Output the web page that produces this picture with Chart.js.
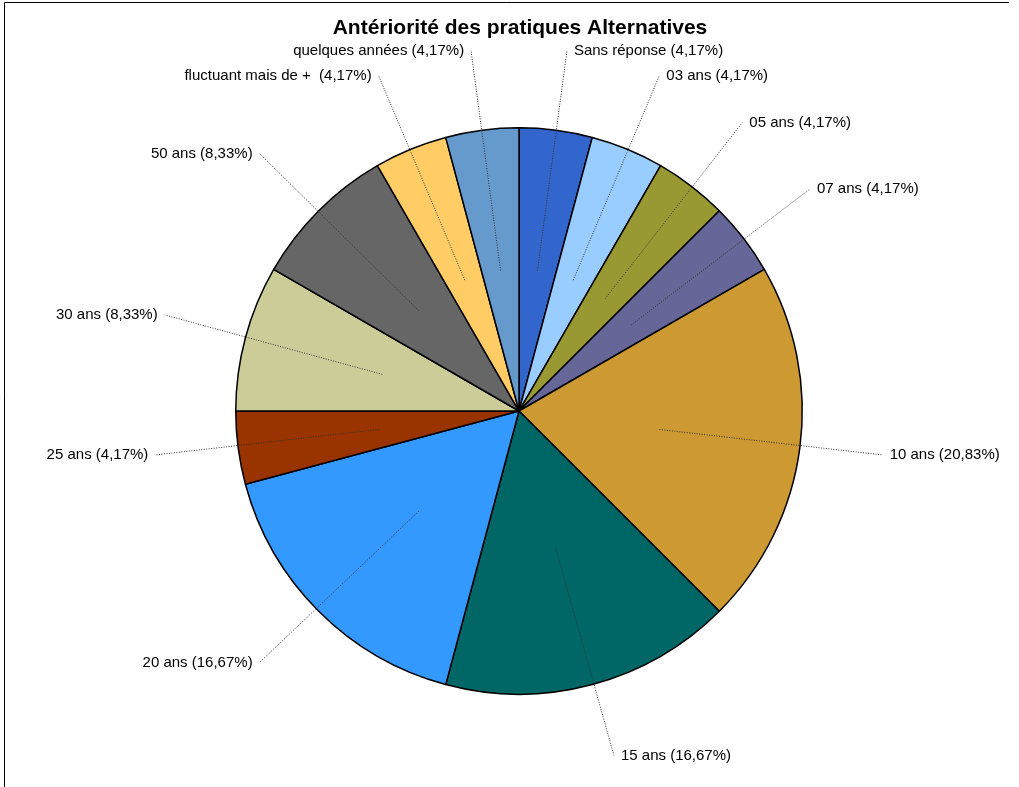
<!DOCTYPE html>
<html><head><meta charset="utf-8">
<script src="https://cdn.jsdelivr.net/npm/chart.js@4/dist/chart.umd.min.js"></script>
<style>html,body{margin:0;padding:0;background:#fff;}#wrap{width:1019px;height:787px;position:relative;}</style>
</head><body><div id="wrap"><canvas id="c" width="1019" height="787"></canvas></div>
<script>
const TITLE = "Antériorité des pratiques Alternatives";
const categories = ["Sans réponse","03 ans","05 ans","07 ans","10 ans","15 ans","20 ans","25 ans","30 ans","50 ans","fluctuant mais de + ","quelques années"];
const counts = [1,1,1,1,5,4,4,1,2,2,1,1];
const colors = ["#3366CC","#99CCFF","#999933","#666699","#CC9933","#006666","#3399FF","#993300","#CCCC99","#666666","#FFCC66","#6699CC"];

const labelPlugin = {
  id: 'labels',
  afterDraw(chart) {
    const ctx = chart.ctx;
    const meta = chart.getDatasetMeta(0);
    const total = counts.reduce((a,b)=>a+b,0);
    ctx.save();
    // frame
    ctx.strokeStyle = '#000'; ctx.lineWidth = 1;
    ctx.beginPath(); ctx.moveTo(4.5, 787); ctx.lineTo(4.5, 2.5); ctx.lineTo(1009, 2.5); ctx.stroke();
    // title
    ctx.fillStyle = '#000';
    ctx.font = 'bold 21px "Liberation Sans", Arial, sans-serif';
    ctx.textAlign = 'center'; ctx.textBaseline = 'middle';
    ctx.fillText(TITLE, 520, 28);
    ctx.font = '15px "Liberation Sans", Arial, sans-serif';
    meta.data.forEach((arc, i) => {
      const p = arc.getProps(['x','y','startAngle','endAngle','outerRadius']);
      const mid = (p.startAngle + p.endAngle) / 2;
      const r = p.outerRadius;
      const ix = p.x + Math.cos(mid) * r * 0.5, iy = p.y + Math.sin(mid) * r * 0.5;
      const ox = p.x + Math.cos(mid) * r * 1.295, oy = p.y - 3 + Math.sin(mid) * r * 1.27;
      ctx.strokeStyle = '#333'; ctx.lineWidth = 1; ctx.setLineDash([1,1.5]);
      ctx.beginPath(); ctx.moveTo(ix, iy); ctx.lineTo(ox, oy); ctx.stroke();
      ctx.setLineDash([]);
      const pct = (counts[i] / total * 100).toFixed(2).replace('.', ',');
      const txt = categories[i] + ' (' + pct + '%)';
      ctx.fillStyle = '#000';
      if (ox >= p.x) { ctx.textAlign = 'left'; ctx.fillText(txt, ox + 7, oy); }
      else { ctx.textAlign = 'right'; ctx.fillText(txt, ox - 7, oy); }
    });
    ctx.restore();
  }
};

new Chart(document.getElementById('c'), {
  type: 'pie',
  data: { labels: categories, datasets: [{ data: counts, backgroundColor: colors, borderColor: '#000', borderWidth: 1.5 }] },
  options: {
    responsive: false, animation: false,
    layout: { padding: { top: 127, bottom: 92, left: 235, right: 216 } },
    plugins: { legend: { display: false }, tooltip: { enabled: false }, title: { display: false } }
  },
  plugins: [labelPlugin]
});
</script></body></html>
